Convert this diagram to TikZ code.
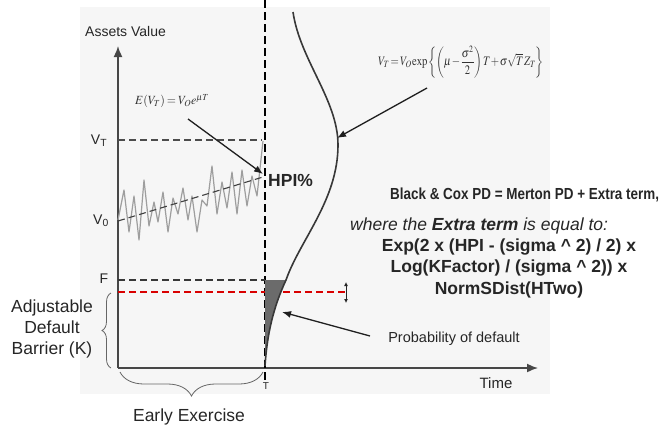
\documentclass[tikz,border=0pt]{standalone}
\usepackage{graphicx}
\usepackage{mathptmx}
\usepackage[no-math]{fontspec}
\setmainfont{Liberation Sans}
\newfontfamily\narrowsans[FakeStretch=0.84]{Liberation Sans}
\usetikzlibrary{arrows.meta,decorations.pathreplacing}
\begin{document}
\begin{tikzpicture}[x=1pt,y=-1pt,
  lbl/.style={inner sep=0pt, text=black!85, font=\fontsize{14}{16}\selectfont},
  biglbl/.style={inner sep=0pt, text=black!85, font=\fontsize{17.5}{21}\selectfont},
  axisline/.style={draw=black!72, line width=1.6pt},
  guide/.style={draw=black!70, line width=1.2pt, dash pattern=on 7pt off 4pt},
  ptr/.style={-{Latex[length=9pt,width=7pt]}, line width=1.3pt, draw=black!88},
  bracestyle/.style={draw=black!60, line width=0.8pt, decorate},
]
\useasboundingbox (0,0) rectangle (663,426);
\fill[black!3.5] (80,7) rectangle (550,394);

% axes
\coordinate (origin) at (118,368);
\coordinate (ytip) at (118,46);
\coordinate (xtip) at (538,368);
\draw[axisline, -{Latex[length=11pt,width=9pt]}] (origin) -- (ytip);
\draw[axisline, -{Latex[length=11pt,width=9pt]}] (origin) -- (xtip);

% maturity line
\coordinate (ttop) at (265,0);
\coordinate (tbot) at (265,380);
\draw[black, line width=1.5pt, dash pattern=on 8pt off 4pt] (ttop) -- (tbot);

% guide lines
\coordinate (vtl) at (118,140);
\coordinate (vtr) at (262,140);
\draw[guide] (vtl) -- (vtr);
\coordinate (fl) at (118,280);
\coordinate (fr) at (265,280);
\draw[guide, draw=black!78] (fl) -- (fr);
\coordinate (kl) at (118,292);
\coordinate (kr) at (348,292);
\draw[red!85!black, line width=1.6pt, dash pattern=on 7pt off 4pt] (kl) -- (kr);
\coordinate (da) at (346,282);
\coordinate (db) at (346,303);
\draw[black!85, line width=0.8pt, {Latex[length=4pt,width=4pt]}-{Latex[length=4pt,width=4pt]}] (da) -- (db);

% random walk
\draw[black!38, line width=1.2pt, line join=round] plot coordinates {
(118,220) (124,190) (129,232) (134,196) (139,240) (144,180) (149,226) (154,202) (158,222)
(163,192) (168,232) (173,198) (178,214) (183,188) (188,220) (192,196) (197,232) (202,200)
(207,206) (212,166) (217,214) (222,182) (227,208) (232,172) (237,214) (242,170) (247,206)
(252,176) (257,196) (263,141)};
% expected trend
\coordinate (v0a) at (118,221);
\coordinate (v0b) at (263,177);
\draw[guide, line width=1.1pt, draw=black!75] (v0a) -- (v0b);

% distribution curve and default area
\fill[black!58] (265,280) -- (286,280) .. controls (273,308) and (267,335) .. (265,366) -- cycle;
\draw[black!78, line width=1.6pt] (293,12) .. controls (300,60) and (338,100) .. (338,145)
  .. controls (338,200) and (300,240) .. (286,280) .. controls (273,308) and (267,335) .. (265,366);

% axis labels
\node[lbl, anchor=west] (assets) at (85,31) {Assets Value};
\node[lbl] (vt) at (99,141) {V\textsubscript{T}};
\node[lbl] (v0) at (101,221) {V\textsubscript{0}};
\node[lbl] (f) at (104,279) {F};
\node[lbl, font=\fontsize{15}{17}\selectfont] (time) at (496,383) {Time};
\node[lbl, font=\fontsize{10}{12}\selectfont] (t) at (266,386) {T};

% braces
\coordinate (bk1) at (111,368);
\coordinate (bk2) at (111,293);
\draw[bracestyle, decoration={brace, amplitude=9pt}] (bk1) -- (bk2);
\node[biglbl, align=center] (adj) at (52,329) {Adjustable\\Default\\Barrier (K)};
\coordinate (be1) at (263,372);
\coordinate (be2) at (120,372);
\draw[bracestyle, decoration={brace, amplitude=24pt, aspect=0.5}] (be1) -- (be2);
\node[biglbl] (early) at (189,417) {Early Exercise};

% formulas
\node[inner sep=0pt, text=black!80, font=\fontsize{12.5}{14}\selectfont] (ef) at (172,101)
  {\scalebox{0.95}[1]{$\medmuskip=2mu\thickmuskip=3mu E(V_T)=V_O e^{\mu T}$}};
\coordinate (efTail) at (188,119);
\coordinate (efTip) at (263,174);
\draw[ptr] (efTail) -- (efTip);
\node[lbl, anchor=west, font=\fontsize{17.5}{20}\selectfont\bfseries] (hpi) at (268,180) {HPI\%};

\node[inner sep=0pt, text=black!80, font=\fontsize{13}{15}\selectfont] (vtf) at (461,62)
  {\scalebox{0.82}[1]{$\displaystyle\medmuskip=1mu\thickmuskip=2mu\thinmuskip=1mu V_T = V_O\exp\left\{\left(\mu-\frac{\sigma^2}{2}\right)T+\sigma\sqrt{T}\,Z_T\right\}$}};
\coordinate (vtfTail) at (427,88);
\coordinate (vtfTip) at (337,138);
\draw[ptr] (vtfTail) -- (vtfTip);

% right text
\node[lbl, anchor=west, font=\fontsize{16}{18}\selectfont\narrowsans\bfseries] (bc) at (390,195)
  {Black \& Cox PD = Merton PD + Extra term,};
\node[biglbl, anchor=west, font=\fontsize{17.5}{20}\selectfont\itshape] (where) at (350,226)
  {where the \textbf{Extra term} is equal to:};
\node[biglbl, align=center, font=\fontsize{17.5}{21.5}\selectfont\bfseries] (extra) at (509,268)
  {Exp(2 x (HPI - (sigma \^{} 2) / 2) x\\Log(KFactor) / (sigma \^{} 2)) x\\NormSDist(HTwo)};

\node[lbl, font=\fontsize{14.5}{17}\selectfont] (prob) at (454,339) {Probability of default};
\coordinate (probTail) at (370,336);
\coordinate (probTip) at (282,312);
\draw[ptr] (probTail) -- (probTip);
\end{tikzpicture}
\end{document}
